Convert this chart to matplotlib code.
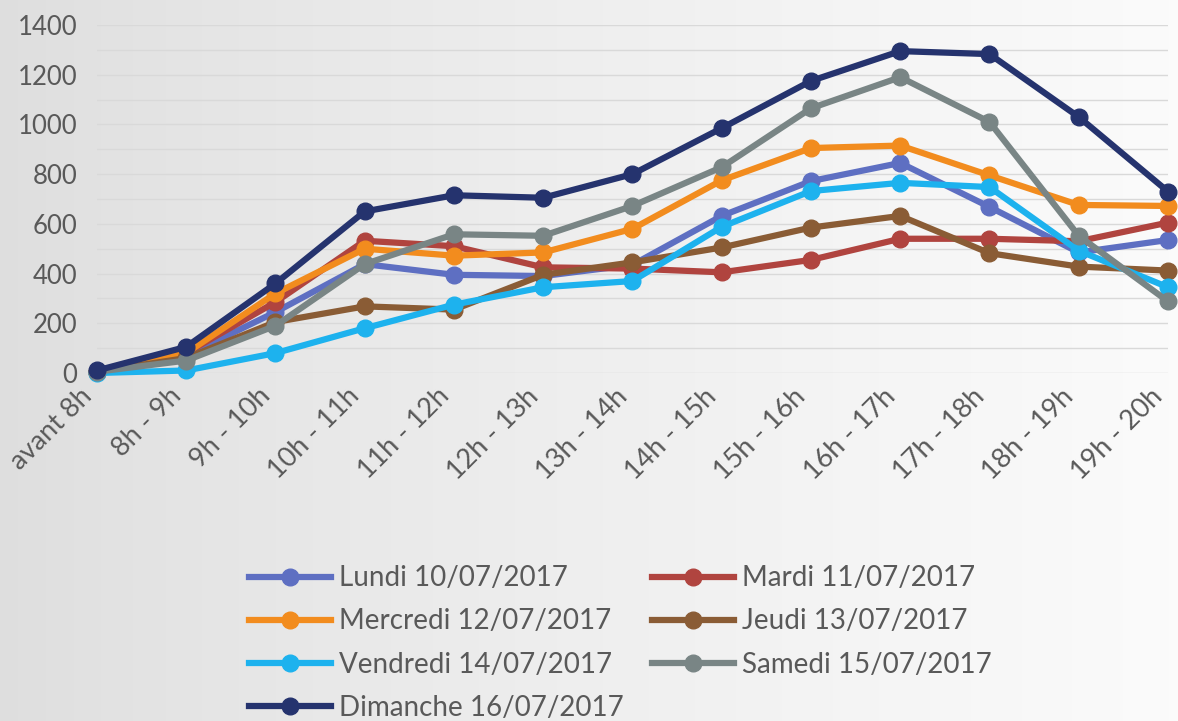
import numpy as np
import matplotlib
matplotlib.use("Agg")
import matplotlib.pyplot as plt
import matplotlib.transforms as mtransforms

plt.rcParams['font.family'] = ['Lato', 'DejaVu Sans']

# data
creneaux = ["avant 8h", "8h - 9h", "9h - 10h", "10h - 11h", "11h - 12h", "12h - 13h",
            "13h - 14h", "14h - 15h", "15h - 16h", "16h - 17h", "17h - 18h",
            "18h - 19h", "19h - 20h"]

lundi = [5, 70, 245, 438, 395, 390, 435, 632, 772, 845, 668, 485, 535]
mardi = [5, 80, 285, 532, 510, 425, 420, 405, 455, 540, 540, 530, 605]
mercredi = [5, 80, 320, 500, 472, 485, 580, 775, 905, 915, 795, 676, 672]
jeudi = [5, 60, 205, 268, 255, 395, 445, 505, 585, 632, 482, 428, 412]
vendredi = [0, 10, 80, 180, 275, 345, 370, 588, 732, 765, 748, 492, 345]
samedi = [5, 50, 190, 438, 558, 552, 672, 828, 1065, 1190, 1010, 552, 288]
dimanche = [10, 105, 360, 650, 715, 705, 800, 985, 1175, 1295, 1283, 1030, 730]

series = [
    ("Lundi 10/07/2017", lundi, "#5e6fc2"),
    ("Mardi 11/07/2017", mardi, "#b0443f"),
    ("Mercredi 12/07/2017", mercredi, "#f28c1e"),
    ("Jeudi 13/07/2017", jeudi, "#8a5c35"),
    ("Vendredi 14/07/2017", vendredi, "#1db2ee"),
    ("Samedi 15/07/2017", samedi, "#798585"),
    ("Dimanche 16/07/2017", dimanche, "#25336e"),
]

fig = plt.figure(figsize=(11.78, 7.21), dpi=100)

# grey-to-white background like the scanned excel chart
bg = fig.add_axes([0, 0, 1, 1], zorder=-10)
grad = np.linspace(0, 1, 256) ** 0.8
bg.imshow(np.vstack([grad, grad]), aspect='auto', cmap=matplotlib.colors.LinearSegmentedColormap.from_list(
    "bg", ["#dedede", "#fbfbfb"]), extent=[0, 1, 0, 1])
bg.axis('off')

ax = fig.add_axes([0.0823, 0.4827, 0.9915 - 0.0823, 0.9653 - 0.4827])
ax.patch.set_alpha(0)

x = np.arange(len(creneaux))
handles = {}
for name, vals, col in series:
    ln, = ax.plot(x, vals, color=col, lw=4.5, marker='o', ms=12, label=name,
                  clip_on=False, solid_joinstyle='round')
    handles[name] = ln

ax.set_xlim(0, len(creneaux) - 1)
ax.set_ylim(0, 1400)
ax.set_yticks(range(0, 1401, 200))
ax.set_yticks(range(0, 1401, 100), minor=True)
ax.grid(axis='y', which='both', color='#d9d9d9', lw=1)
ax.set_axisbelow(True)
ax.tick_params(axis='both', length=0, labelcolor='#595959')
ax.tick_params(axis='y', which='minor', length=0)
ax.tick_params(axis='y', pad=14, labelsize=18.5)
ax.set_xticks(x)
ax.set_xticklabels(creneaux, rotation=45, ha='right', va='center',
                   rotation_mode='anchor', fontsize=19.5)
ax.tick_params(axis='x', pad=14)
shift = mtransforms.ScaledTranslation(-9 / 100, 0, fig.dpi_scale_trans)
for lab in ax.get_xticklabels():
    lab.set_transform(lab.get_transform() + shift)
for s in ax.spines.values():
    s.set_visible(False)

# legend laid out column-wise to match the two-column order of the original
order = ["Lundi 10/07/2017", "Mercredi 12/07/2017", "Vendredi 14/07/2017", "Dimanche 16/07/2017",
         "Mardi 11/07/2017", "Jeudi 13/07/2017", "Samedi 15/07/2017"]
leg = fig.legend([handles[n] for n in order], order, ncol=2, frameon=False,
                 loc='upper left', bbox_to_anchor=(0.195, 0.243), fontsize=20,
                 labelcolor='#595959', handlelength=2.95, handletextpad=0.3,
                 columnspacing=1.0, labelspacing=0.62, borderpad=0.2)

fig.savefig("out.png", dpi=100)
